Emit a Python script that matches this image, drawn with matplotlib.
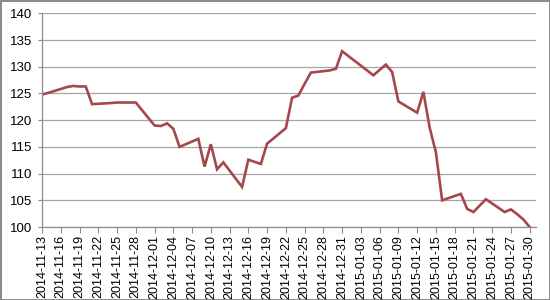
import matplotlib.pyplot as plt
import matplotlib.dates as mdates
import pandas as pd

# trading days and index values
dates = ['2014-11-13', '2014-11-14', '2014-11-17', '2014-11-18', '2014-11-19',
         '2014-11-20', '2014-11-21', '2014-11-24', '2014-11-25', '2014-11-26',
         '2014-11-27', '2014-11-28', '2014-12-01', '2014-12-02', '2014-12-03',
         '2014-12-04', '2014-12-05', '2014-12-08', '2014-12-09', '2014-12-10',
         '2014-12-11', '2014-12-12', '2014-12-15', '2014-12-16', '2014-12-17',
         '2014-12-18', '2014-12-19', '2014-12-22', '2014-12-23', '2014-12-24',
         '2014-12-25', '2014-12-26', '2014-12-29', '2014-12-30', '2014-12-31',
         '2015-01-05', '2015-01-06', '2015-01-07', '2015-01-08', '2015-01-09',
         '2015-01-12', '2015-01-13', '2015-01-14', '2015-01-15', '2015-01-16',
         '2015-01-19', '2015-01-20', '2015-01-21', '2015-01-22', '2015-01-23',
         '2015-01-26', '2015-01-27', '2015-01-28', '2015-01-29', '2015-01-30']
values = [124.8, 125.1, 126.2, 126.4, 126.3,
          126.3, 123.0, 123.2, 123.3, 123.3,
          123.3, 123.3, 119.0, 118.9, 119.4,
          118.4, 115.0, 116.5, 111.3, 115.5,
          110.8, 112.1, 107.5, 112.6, 112.2,
          111.8, 115.6, 118.5, 124.2, 124.6,
          126.8, 128.9, 129.3, 129.6, 132.9,
          128.4, 129.4, 130.4, 129.0, 123.5,
          121.4, 125.3, 118.6, 114.0, 105.0,
          106.2, 103.4, 102.8, 104.0, 105.2,
          102.8, 103.3, 102.4, 101.4, 100.0]

x = pd.to_datetime(dates)
tick_dates = pd.date_range('2014-11-13', '2015-01-30', freq='3D')

fig = plt.figure(figsize=(5.5, 3), dpi=100)
fig.patch.set_edgecolor('#8c8c8c')
fig.patch.set_linewidth(2)
ax = fig.add_axes([0.0764, 0.2433, 0.898, 0.7124])

ax.plot(x, values, color='#a5474c', linewidth=1.9, solid_joinstyle='miter')

ax.set_ylim(100, 140)
ax.set_yticks(range(100, 141, 5))
ax.set_xlim(pd.Timestamp('2014-11-13'), pd.Timestamp('2015-01-31'))
ax.set_xticks(tick_dates)
ax.xaxis.set_major_formatter(mdates.DateFormatter('%Y-%m-%d'))

ax.grid(axis='y', color='#a6a6a6', linewidth=0.9)
ax.set_axisbelow(True)
for side in ['top', 'right']:
    ax.spines[side].set_visible(False)
for side in ['left', 'bottom']:
    ax.spines[side].set_color('#8c8c8c')
    ax.spines[side].set_linewidth(0.9)

ax.tick_params(axis='x', length=4, color='#8c8c8c', rotation=90, pad=2)
ax.tick_params(axis='y', length=3, color='#8c8c8c', pad=4)
for lbl in ax.get_xticklabels():
    lbl.set_fontfamily('Liberation Sans')
    lbl.set_fontsize(9)
for lbl in ax.get_yticklabels():
    lbl.set_fontfamily('Liberation Sans')
    lbl.set_fontsize(9.5)

fig.savefig('out.png', dpi=100, edgecolor=fig.get_edgecolor())
